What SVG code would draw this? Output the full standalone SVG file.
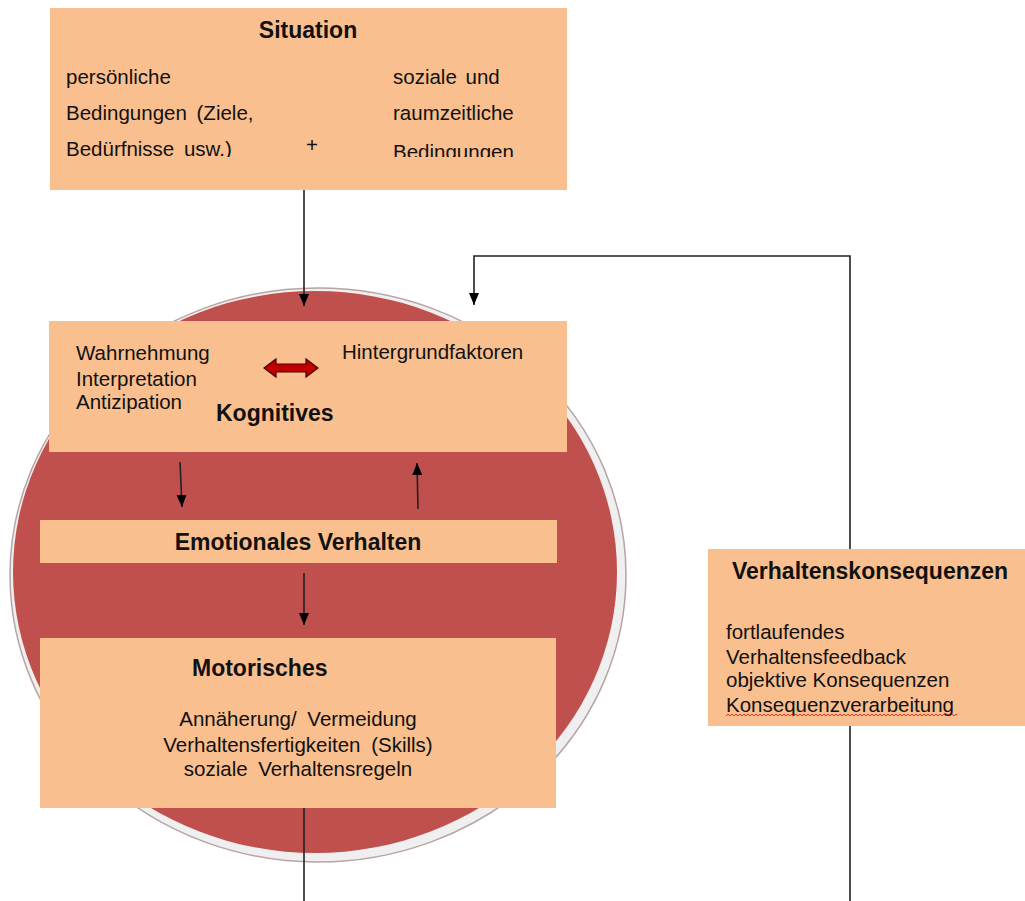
<svg xmlns="http://www.w3.org/2000/svg" width="1025" height="901" viewBox="0 0 1025 901">
<style>
.box{fill:#f9bf8f;}
.t{font-family:"Liberation Sans",Arial,sans-serif;font-size:20.5px;fill:#111;}
.b{font-family:"Liberation Sans",Arial,sans-serif;font-size:23px;font-weight:bold;fill:#111;}
.ln{stroke:#222;stroke-width:1.6;fill:none;}
</style>
<defs>
<marker id="ah" viewBox="0 0 12 10" refX="12" refY="5" markerWidth="12" markerHeight="10" markerUnits="userSpaceOnUse" orient="auto">
<path d="M0,0 L12,5 L0,10 Z" fill="#000"/>
</marker>
<clipPath id="clipSit"><rect x="50" y="8" width="517" height="149"/></clipPath>
<clipPath id="clipWave"><rect x="725" y="710" width="232" height="10"/></clipPath>
</defs>
<rect width="1025" height="901" fill="#fff"/>

<g id="circle">
<ellipse cx="318" cy="575" rx="308" ry="287" fill="#efefef" stroke="#b9a3a3" stroke-width="1.5"/>
<ellipse cx="315" cy="572" rx="302" ry="281" fill="#c0504d"/>
</g>

<g id="connectors">
<line class="ln" x1="304" y1="190" x2="304" y2="306" marker-end="url(#ah)"/>
<polyline class="ln" points="850,901 850,256 474,256 474,305" marker-end="url(#ah)"/>
<line class="ln" x1="304" y1="808" x2="304" y2="901"/>
<line class="ln" x1="180" y1="462" x2="182" y2="507" marker-end="url(#ah)"/>
<line class="ln" x1="418" y1="509" x2="417" y2="463" marker-end="url(#ah)"/>
<line class="ln" x1="304" y1="573" x2="304" y2="625" marker-end="url(#ah)"/>
</g>

<g id="situation">
<rect class="box" x="50" y="8" width="517" height="182"/>
<text class="b" x="308" y="38" text-anchor="middle">Situation</text>
<g clip-path="url(#clipSit)">
<text class="t" x="66" y="84">persönliche</text>
<text class="t" x="66" y="120" word-spacing="4">Bedingungen (Ziele,</text>
<text class="t" x="66" y="156" word-spacing="4">Bedürfnisse usw.)</text>
<text class="t" x="306" y="152">+</text>
<text class="t" x="393" y="84" word-spacing="3">soziale und</text>
<text class="t" x="393" y="120">raumzeitliche</text>
<text class="t" x="393" y="159">Bedingungen</text>
</g>
</g>

<g id="kognitives">
<rect class="box" x="49" y="321" width="518" height="131"/>
<text class="t" x="76" y="360">Wahrnehmung</text>
<text class="t" x="76" y="386">Interpretation</text>
<text class="t" x="76" y="409">Antizipation</text>
<text class="t" x="342" y="359">Hintergrundfaktoren</text>
<text class="b" x="216" y="421">Kognitives</text>
<path d="M264,368 L276,359 L276,364 L306,364 L306,359 L318,368 L306,377 L306,372 L276,372 L276,377 Z" fill="#c00000" stroke="#4a0000" stroke-width="1.2"/>
</g>

<g id="emotionales">
<rect class="box" x="40" y="520" width="517" height="43"/>
<text class="b" x="298" y="550" text-anchor="middle">Emotionales Verhalten</text>
</g>

<g id="motorisches">
<rect class="box" x="40" y="638" width="516" height="170"/>
<text class="b" x="192" y="676">Motorisches</text>
<text class="t" x="298" y="726" text-anchor="middle" word-spacing="5">Annäherung/ Vermeidung</text>
<text class="t" x="298" y="752" text-anchor="middle" word-spacing="5">Verhaltensfertigkeiten (Skills)</text>
<text class="t" x="298" y="776" text-anchor="middle" word-spacing="5">soziale Verhaltensregeln</text>
</g>

<g id="verhaltenskonsequenzen">
<rect class="box" x="708" y="549" width="317" height="177"/>
<text class="b" x="732" y="579">Verhaltenskonsequenzen</text>
<text class="t" x="726" y="639">fortlaufendes</text>
<text class="t" x="726" y="664">Verhaltensfeedback</text>
<text class="t" x="726" y="687">objektive Konsequenzen</text>
<text class="t" x="726" y="712">Konsequenzverarbeitung</text>
<path clip-path="url(#clipWave)" d="M726,716 l2,-2 l2,2 l2,-2 l2,2 l2,-2 l2,2 l2,-2 l2,2 l2,-2 l2,2 l2,-2 l2,2 l2,-2 l2,2 l2,-2 l2,2 l2,-2 l2,2 l2,-2 l2,2 l2,-2 l2,2 l2,-2 l2,2 l2,-2 l2,2 l2,-2 l2,2 l2,-2 l2,2 l2,-2 l2,2 l2,-2 l2,2 l2,-2 l2,2 l2,-2 l2,2 l2,-2 l2,2 l2,-2 l2,2 l2,-2 l2,2 l2,-2 l2,2 l2,-2 l2,2 l2,-2 l2,2 l2,-2 l2,2 l2,-2 l2,2 l2,-2 l2,2 l2,-2 l2,2 l2,-2 l2,2 l2,-2 l2,2 l2,-2 l2,2 l2,-2 l2,2 l2,-2 l2,2 l2,-2 l2,2 l2,-2 l2,2 l2,-2 l2,2 l2,-2 l2,2 l2,-2 l2,2 l2,-2 l2,2 l2,-2 l2,2 l2,-2 l2,2 l2,-2 l2,2 l2,-2 l2,2 l2,-2 l2,2 l2,-2 l2,2 l2,-2 l2,2 l2,-2 l2,2 l2,-2 l2,2 l2,-2 l2,2 l2,-2 l2,2 l2,-2 l2,2 l2,-2 l2,2 l2,-2 l2,2 l2,-2 l2,2 l2,-2 l2,2 l2,-2 l2,2 l2,-2 l2,2 l2,-2 l2,2 l2,-2 l2,2" fill="none" stroke="#e02020" stroke-width="0.9"/>
</g>
</svg>
